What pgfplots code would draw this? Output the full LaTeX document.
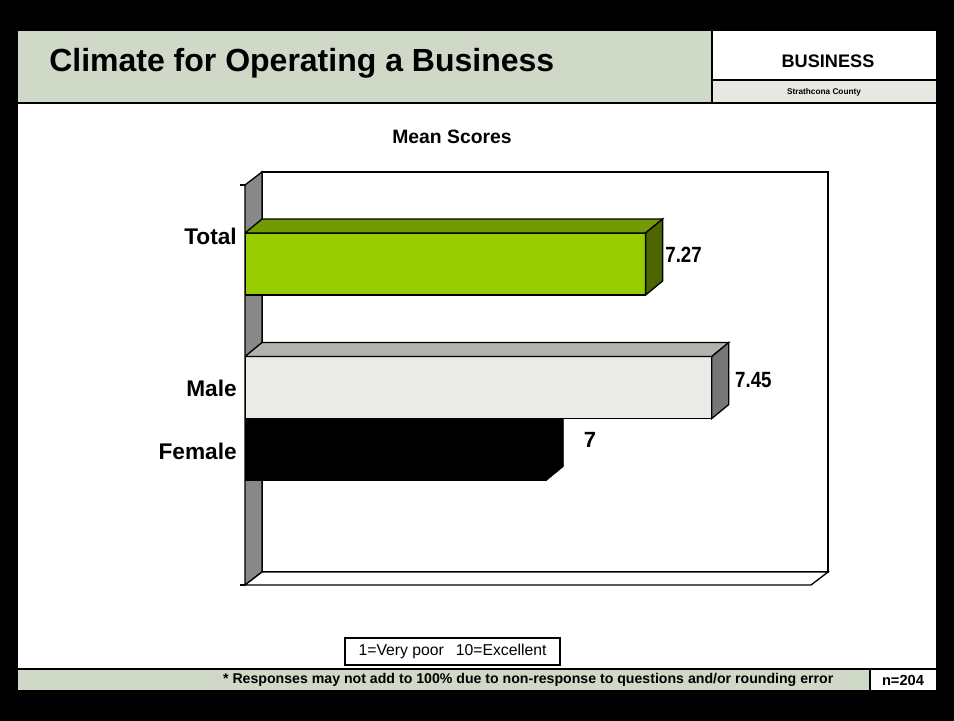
\documentclass[border=0pt]{standalone}
\usepackage{fontspec}
\setmainfont{Liberation Sans}
\usepackage{graphicx}
\usepackage{pgfplots}
\pgfplotsset{compat=1.18}

\definecolor{sage}{HTML}{D0D8C8}
\definecolor{band}{HTML}{E8E8E2}
\definecolor{wallgray}{HTML}{888888}
\definecolor{totfront}{HTML}{99CC00}
\definecolor{tottop}{HTML}{739A00}
\definecolor{totside}{HTML}{4D6600}
\definecolor{malefront}{HTML}{EAEAE6}
\definecolor{maletop}{HTML}{B2B2AE}
\definecolor{maleside}{HTML}{777777}

\begin{document}
\begin{tikzpicture}
% page frame and header, in pixel units
\begin{scope}[x=0.75pt,y=-0.75pt]
\fill[black] (0,0) rectangle (954,721);
\fill[white] (18,31) rectangle (936,690);
\fill[sage] (18,31) rectangle (712,103);
\fill[band] (712,80) rectangle (936,103);
\draw[line width=1.2pt] (712,31) -- (712,103);
\draw[line width=1pt] (712,80) -- (936,80);
\draw[line width=1.2pt] (18,103) -- (936,103);
\node[anchor=west, inner sep=0pt, font=\bfseries\fontsize{24}{28}\selectfont] at (49,63) {Climate for Operating a Business};
\node[font=\bfseries\fontsize{13.6}{15}\selectfont] at (828,61) {BUSINESS};
\node[font=\bfseries\fontsize{6.2}{7}\selectfont] at (824,92) {Strathcona County};
\node[font=\bfseries\fontsize{14.5}{17}\selectfont] at (452,137) {Mean Scores};
% 3d walls
\filldraw[fill=white, line width=1pt] (262,172) rectangle (828,572);
\filldraw[fill=wallgray, line width=1pt] (245,185) -- (262,172) -- (262,572) -- (245,585) -- cycle;
\filldraw[fill=white, line width=1pt] (245,585) -- (262,572) -- (828,572) -- (811,585) -- cycle;
\draw[line width=1pt] (240,185) -- (245,185);
\draw[line width=1pt] (240,585) -- (245,585);
\end{scope}

\begin{axis}[
    at={(183.75pt,-438.75pt)}, anchor=south west,
    width=424.5pt, height=300pt, scale only axis,
    xmin=6.18, xmax=7.72, ymin=0, ymax=400,
    axis line style={draw=none},
    xtick=\empty,
    ytick={134,197,349},
    yticklabels={Female,Male,Total},
    ytick style={draw=none},
    yticklabel style={font=\bfseries\fontsize{17}{20}\selectfont, anchor=east, inner sep=0pt, xshift=-6pt},
]
% Female
\addplot[xbar, bar width=62, bar shift=0pt, fill=black, draw=black] coordinates {(7.00,135.5)};
\addplot[fill=black, draw=black] coordinates {(7.00,166.5) (7.0463,180.5) (7.0463,118.5) (7.00,104.5)} -- cycle;
% Male
\addplot[xbar, bar width=62, bar shift=0pt, fill=malefront, draw=black, line width=1pt] coordinates {(7.45,197.5)};
\addplot[fill=maletop, draw=black, line width=1pt] coordinates {(6.18,228.5) (7.45,228.5) (7.4963,242.5) (6.2263,242.5)} -- cycle;
\addplot[fill=maleside, draw=black, line width=1pt] coordinates {(7.45,228.5) (7.4963,242.5) (7.4963,180.5) (7.45,166.5)} -- cycle;
% Total
\addplot[xbar, bar width=62, bar shift=0pt, fill=totfront, draw=black, line width=1pt] coordinates {(7.27,321)};
\addplot[fill=tottop, draw=black, line width=1pt] coordinates {(6.18,352) (7.27,352) (7.3163,366) (6.2263,366)} -- cycle;
\addplot[fill=totside, draw=black, line width=1pt] coordinates {(7.27,352) (7.3163,366) (7.3163,304) (7.27,290)} -- cycle;
% value labels
\node[anchor=west, inner sep=0pt, font=\bfseries\fontsize{16.5}{19}\selectfont] at (axis cs:7.323,330) {\scalebox{0.85}[1]{7.27}};
\node[anchor=west, inner sep=0pt, font=\bfseries\fontsize{16.5}{19}\selectfont] at (axis cs:7.513,205) {\scalebox{0.85}[1]{7.45}};
\node[inner sep=0pt, font=\bfseries\fontsize{16.5}{19}\selectfont] at (axis cs:7.119,145) {7};
\end{axis}

\begin{scope}[x=0.75pt,y=-0.75pt]
% scale note
\draw[line width=1pt] (345,638) rectangle (560,665);
\node[font=\fontsize{11.8}{14}\selectfont] at (452.5,651.5) {1=Very poor\hspace{9pt}10=Excellent};
% footer
\fill[sage] (18,670) rectangle (870,690);
\draw[line width=1.2pt] (18,669) -- (936,669);
\draw[line width=1pt] (870,669) -- (870,690);
\node[anchor=east, font=\bfseries\fontsize{10.6}{12}\selectfont] at (838,680) {* Responses may not add to 100\% due to non-response to questions and/or rounding error};
\node[font=\bfseries\fontsize{11}{13}\selectfont] at (903,680) {n=204};
\end{scope}
\end{tikzpicture}
\end{document}
